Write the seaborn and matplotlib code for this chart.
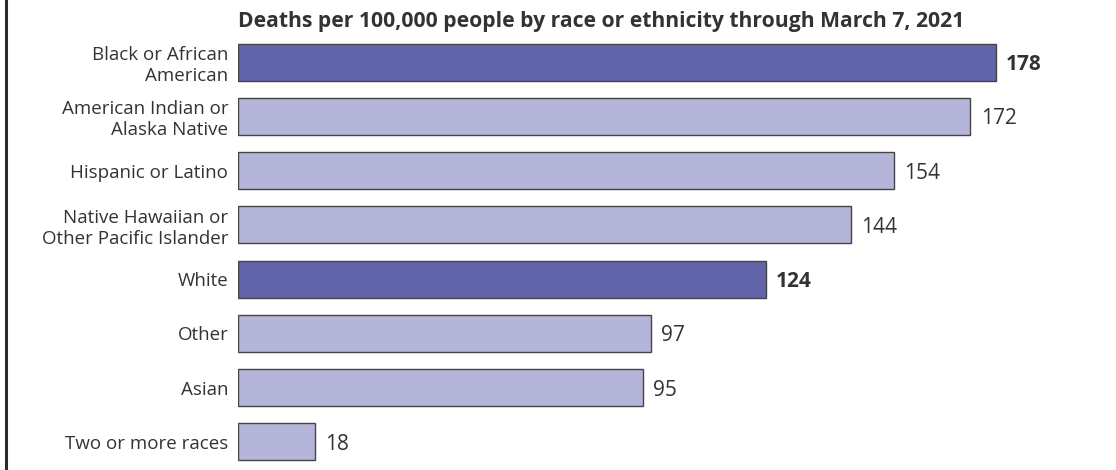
import matplotlib
matplotlib.use("Agg")
import matplotlib.pyplot as plt
import seaborn as sns
import pandas as pd

# Deaths per 100,000 people by race or ethnicity
groups = [
    "Black or African\nAmerican",
    "American Indian or\nAlaska Native",
    "Hispanic or Latino",
    "Native Hawaiian or\nOther Pacific Islander",
    "White",
    "Other",
    "Asian",
    "Two or more races",
]
deaths = [178, 172, 154, 144, 124, 97, 95, 18]
highlighted = ["Black or African\nAmerican", "White"]

DARK = "#6264AA"
LIGHT = "#B5B5D9"
TEXT = "#333333"

sns.set_theme(style="white")
plt.rcParams["font.family"] = ["Open Sans", "DejaVu Sans"]

df = pd.DataFrame({"group": groups, "deaths": deaths})
palette = {g: (DARK if g in highlighted else LIGHT) for g in groups}

fig = plt.figure(figsize=(11.16, 4.70), dpi=100)
ax = fig.add_axes([238 / 1116, 1 / 470, (1116 - 238) / 1116, 434 / 470])

sns.barplot(
    data=df, x="deaths", y="group", hue="group", palette=palette,
    order=groups, orient="h", width=0.68, edgecolor="#444444",
    linewidth=1.0, saturation=1, legend=False, ax=ax,
)

ax.set_xlim(0, (1116 - 238) / 4.258)
ax.set_ylim(len(groups) - 0.5, -0.5)
ax.set_xlabel("")
ax.set_ylabel("")
ax.set_xticks([])
for s in ax.spines.values():
    s.set_visible(False)
ax.tick_params(axis="y", length=0, pad=7, labelsize=13.5, labelcolor=TEXT)
for lbl in ax.get_yticklabels():
    lbl.set_linespacing(1.2)

for i, (g, v) in enumerate(zip(groups, deaths)):
    bold = g in highlighted
    ax.text(v + 2.4, i, str(v), va="center_baseline", ha="left", fontsize=15,
            color=TEXT, fontweight="bold" if bold else "normal")

fig.text(238 / 1116, 1 - 21 / 470,
         "Deaths per 100,000 people by race or ethnicity through March 7, 2021",
         ha="left", va="center", fontsize=15.2, fontweight="bold", color=TEXT)

# left frame rule
fig.add_artist(plt.Line2D([6 / 1116, 6 / 1116], [0, 1], transform=fig.transFigure,
                          color="#2b2b2b", linewidth=2.2))

fig.savefig("out.png", dpi=100, facecolor="white")
